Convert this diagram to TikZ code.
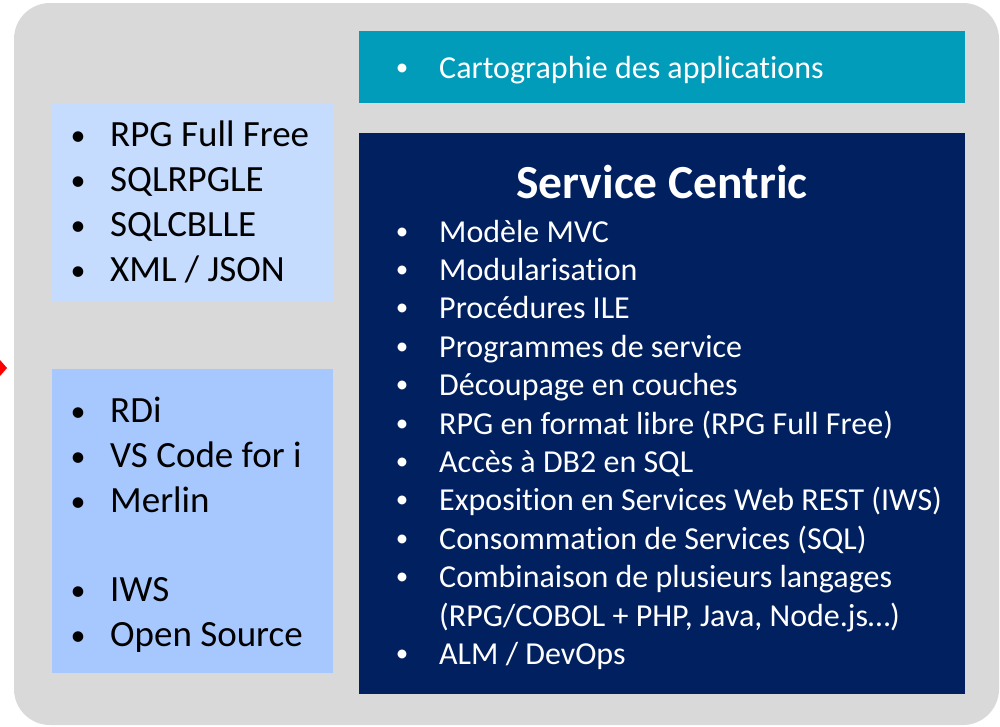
\documentclass[tikz,border=0pt]{standalone}
\usepackage{fontspec}
\setmainfont{Carlito}[Ligatures=NoCommon]
\definecolor{bggrey}{HTML}{D9D9D9}
\definecolor{lblueA}{HTML}{C5DCFF}
\definecolor{lblueB}{HTML}{A6C8FF}
\definecolor{tealbox}{HTML}{009CBA}
\definecolor{navybox}{HTML}{002060}
\definecolor{redarrow}{HTML}{FF0000}
\begin{document}
\begin{tikzpicture}[x=1pt,y=-1pt,
  panel/.style={draw=none, inner sep=0pt, outer sep=0pt, anchor=north west},
  ltxt/.style={font=\fontsize{37}{45}\selectfont, text=black, anchor=base west, inner sep=0pt},
  wtxt/.style={font=\fontsize{32}{38}\selectfont, text=white, anchor=base west, inner sep=0pt},
  lbul/.style={font=\fontsize{30}{30}\selectfont, text=black, anchor=base, inner sep=0pt},
  wbul/.style={font=\fontsize{25}{30}\selectfont, text=white, anchor=base, inner sep=0pt}]
\useasboundingbox (0,0) rectangle (1000,726);
% background
\fill[bggrey, rounded corners=36pt] (14,3) rectangle (999,725);
% red arrow head (cut off)
\fill[redarrow] (0,360) -- (7,368) -- (0,376) -- cycle;
% panels
\node[panel, fill=lblueA, minimum width=281pt, minimum height=197pt] (langs) at (52,104) {};
\node[panel, fill=lblueB, minimum width=281pt, minimum height=304pt] (tools) at (52,369) {};
\node[panel, fill=tealbox, minimum width=606pt, minimum height=72pt] (carto) at (359,31) {};
\node[panel, fill=navybox, minimum width=606pt, minimum height=561pt] (sc) at (359,133) {};
% left box 1
\foreach \t [count=\i] in {RPG Full Free, SQLRPGLE, SQLCBLLE, {XML / JSON}}{
  \node[lbul] (lb\i) at (78,{146+45*(\i-1)-1}) {•};
  \node[ltxt] (lt\i) at (110,{146+45*(\i-1)}) {\t};
}
% left box 2
\foreach \t/\y [count=\i] in {RDi/422, VS Code for i/467, Merlin/512, IWS/601, Open Source/646}{
  \node[lbul] (tb\i) at (78,\y-1) {•};
  \node[ltxt] (tt\i) at (110,\y) {\t};
}
% teal
\node[wbul] (cb) at (402,78-3) {•};
\node[wtxt] (ct) at (439,78) {Cartographie des applications};
% navy
\node[font=\fontsize{47.5}{50}\selectfont\bfseries, text=white, anchor=base, inner sep=0pt] (title) at (662,198) {Service Centric};
\foreach \t/\k [count=\i] in {
  Modèle MVC/0,
  Modularisation/1,
  Procédures ILE/2,
  Programmes de service/3,
  Découpage en couches/4,
  RPG en format libre (RPG Full Free)/5,
  Accès à DB2 en SQL/6,
  Exposition en Services Web REST (IWS)/7,
  Consommation de Services (SQL)/8,
  Combinaison de plusieurs langages/9,
  {ALM / DevOps}/11}{
  \node[wbul] (sb\i) at (402,{242+38.4*\k-3}) {•};
  \node[wtxt] (st\i) at (439,{242+38.4*\k}) {\t};
}
\node[wtxt] (st10b) at (439,{242+38.4*10}) {(RPG/COBOL + PHP, Java, Node.js…)};
\end{tikzpicture}
\end{document}
